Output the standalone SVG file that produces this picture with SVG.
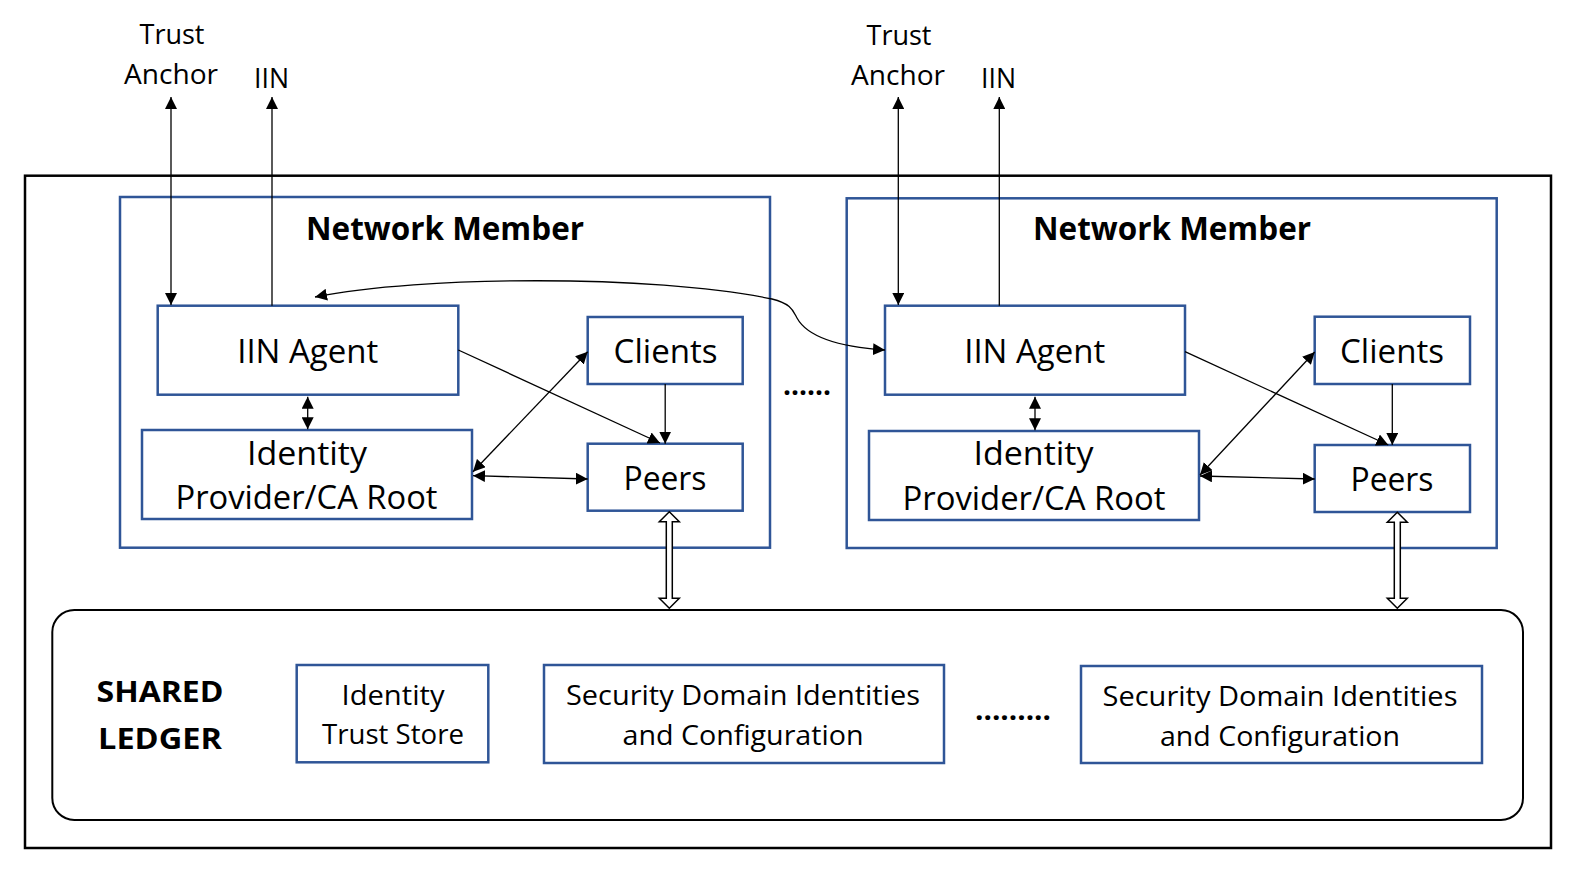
<svg xmlns="http://www.w3.org/2000/svg" width="1580" height="874" viewBox="0 0 1580 874">
<style>
.bx{fill:#fff;stroke:#2F5597;stroke-width:2.5}
.ob{fill:none;stroke:#000;stroke-width:2.5}
.t{font-family:"Open Sans","Noto Sans","Liberation Sans",sans-serif;fill:#000;text-anchor:middle}
.b{font-weight:bold}
.ln{fill:none;stroke:#000;stroke-width:1.3}
.ha{fill:#fff;stroke:#000;stroke-width:1.5}
</style>
<defs>
<marker id="ah" markerUnits="userSpaceOnUse" markerWidth="12" markerHeight="12" refX="12" refY="6" orient="auto-start-reverse">
<path d="M0,0 L12,6 L0,12 z" fill="#000"/>
</marker>
</defs>
<rect width="1580" height="874" fill="#fff"/>
<g id="outer">
<rect class="ob" x="25" y="175.7" width="1526" height="672.3"/>
</g>
<g id="labels-top">
<text class="t" x="172" y="44" font-size="28" textLength="65" lengthAdjust="spacingAndGlyphs">Trust</text>
<text class="t" x="171" y="84" font-size="28" textLength="94" lengthAdjust="spacingAndGlyphs">Anchor</text>
<text class="t" x="271.5" y="88" font-size="28" textLength="35" lengthAdjust="spacingAndGlyphs">IIN</text>
<text class="t" x="899" y="45" font-size="28" textLength="65" lengthAdjust="spacingAndGlyphs">Trust</text>
<text class="t" x="898" y="85" font-size="28" textLength="94" lengthAdjust="spacingAndGlyphs">Anchor</text>
<text class="t" x="998.5" y="88" font-size="28" textLength="35" lengthAdjust="spacingAndGlyphs">IIN</text>
</g>
<g id="member1">
<rect class="bx" x="120" y="197" width="650" height="350.7"/>
<text class="t b" x="445" y="240" font-size="32" textLength="278" lengthAdjust="spacingAndGlyphs">Network Member</text>
</g>
<g id="member2">
<rect class="bx" x="846.7" y="198.3" width="650" height="349.7"/>
<text class="t b" x="1172" y="240" font-size="32" textLength="278" lengthAdjust="spacingAndGlyphs">Network Member</text>
</g>
<g id="iin1">
<rect class="bx" x="157.7" y="305.7" width="300.6" height="89"/>
<text class="t" x="307.7" y="362.7" font-size="32" textLength="141" lengthAdjust="spacingAndGlyphs">IIN Agent</text>
</g>
<g id="idp1">
<rect class="bx" x="142" y="430" width="330" height="89"/>
<text class="t" x="307" y="465" font-size="32" textLength="120" lengthAdjust="spacingAndGlyphs">Identity</text>
<text class="t" x="306.5" y="509" font-size="32" textLength="262" lengthAdjust="spacingAndGlyphs">Provider/CA Root</text>
</g>
<g id="clients1">
<rect class="bx" x="587.7" y="317" width="155" height="67"/>
<text class="t" x="665.6" y="362.7" font-size="32" textLength="104" lengthAdjust="spacingAndGlyphs">Clients</text>
</g>
<g id="peers1">
<rect class="bx" x="587.7" y="443.7" width="155" height="67"/>
<text class="t" x="665" y="490" font-size="32" textLength="83" lengthAdjust="spacingAndGlyphs">Peers</text>
</g>
<g id="iin2">
<rect class="bx" x="885" y="305.7" width="300" height="89"/>
<text class="t" x="1034.7" y="362.7" font-size="32" textLength="141" lengthAdjust="spacingAndGlyphs">IIN Agent</text>
</g>
<g id="idp2">
<rect class="bx" x="869" y="431" width="330" height="89"/>
<text class="t" x="1033.5" y="465" font-size="32" textLength="120" lengthAdjust="spacingAndGlyphs">Identity</text>
<text class="t" x="1034" y="510" font-size="32" textLength="263" lengthAdjust="spacingAndGlyphs">Provider/CA Root</text>
</g>
<g id="clients2">
<rect class="bx" x="1314.7" y="316.7" width="155.3" height="67.3"/>
<text class="t" x="1392" y="363" font-size="32" textLength="104" lengthAdjust="spacingAndGlyphs">Clients</text>
</g>
<g id="peers2">
<rect class="bx" x="1314.7" y="445" width="155.3" height="67"/>
<text class="t" x="1392" y="490.7" font-size="32" textLength="83" lengthAdjust="spacingAndGlyphs">Peers</text>
</g>
<g id="dots-members">
<text class="t b" x="807" y="395" font-size="28" textLength="48" lengthAdjust="spacingAndGlyphs">......</text>
</g>
<g id="ledger">
<rect x="52.3" y="610" width="1470.7" height="210" rx="22" ry="22" fill="none" stroke="#000" stroke-width="2"/>
<text class="t b" x="160" y="701.7" font-size="29" textLength="127" lengthAdjust="spacingAndGlyphs">SHARED</text>
<text class="t b" x="160" y="749" font-size="29" textLength="124" lengthAdjust="spacingAndGlyphs">LEDGER</text>
<text class="t b" x="1013" y="720" font-size="28" textLength="76" lengthAdjust="spacingAndGlyphs">.........</text>
</g>
<g id="trust-store">
<rect class="bx" x="296.7" y="665" width="191.6" height="97.3"/>
<text class="t" x="393" y="705" font-size="27" textLength="103" lengthAdjust="spacingAndGlyphs">Identity</text>
<text class="t" x="393" y="744" font-size="27" textLength="142" lengthAdjust="spacingAndGlyphs">Trust Store</text>
</g>
<g id="sd1">
<rect class="bx" x="544" y="665" width="400" height="98"/>
<text class="t" x="743" y="705" font-size="27" textLength="354" lengthAdjust="spacingAndGlyphs">Security Domain Identities</text>
<text class="t" x="743" y="745" font-size="27" textLength="241" lengthAdjust="spacingAndGlyphs">and Configuration</text>
</g>
<g id="sd2">
<rect class="bx" x="1081" y="666" width="401" height="97"/>
<text class="t" x="1280" y="706" font-size="27" textLength="355" lengthAdjust="spacingAndGlyphs">Security Domain Identities</text>
<text class="t" x="1280" y="746" font-size="27" textLength="240" lengthAdjust="spacingAndGlyphs">and Configuration</text>
</g>
<g id="connectors">
<line class="ln" x1="171" y1="97" x2="171" y2="305" marker-start="url(#ah)" marker-end="url(#ah)"/>
<line class="ln" x1="272" y1="305.7" x2="272" y2="97" marker-end="url(#ah)"/>
<line class="ln" x1="898.3" y1="97" x2="898.3" y2="305" marker-start="url(#ah)" marker-end="url(#ah)"/>
<line class="ln" x1="999.3" y1="305.7" x2="999.3" y2="97" marker-end="url(#ah)"/>
<path class="ln" d="M315,297 C420,276 650,274 772,299 C792,304 793,311 797,318 C808,338 840,347 885,350" marker-start="url(#ah)" marker-end="url(#ah)"/>
<line class="ln" x1="307.7" y1="396.7" x2="307.7" y2="429.3" marker-start="url(#ah)" marker-end="url(#ah)"/>
<line class="ln" x1="1035" y1="396.7" x2="1035" y2="430.3" marker-start="url(#ah)" marker-end="url(#ah)"/>
<line class="ln" x1="458.3" y1="350" x2="660" y2="443" marker-end="url(#ah)"/>
<line class="ln" x1="665.2" y1="384" x2="665.2" y2="443.7" marker-end="url(#ah)"/>
<line class="ln" x1="587.7" y1="351.7" x2="473" y2="471.7" marker-start="url(#ah)" marker-end="url(#ah)"/>
<line class="ln" x1="473" y1="475.7" x2="587.7" y2="479" marker-start="url(#ah)" marker-end="url(#ah)"/>
<line class="ln" x1="1185" y1="351.7" x2="1388.3" y2="445" marker-end="url(#ah)"/>
<line class="ln" x1="1392.3" y1="384" x2="1392.3" y2="445" marker-end="url(#ah)"/>
<line class="ln" x1="1314.7" y1="352" x2="1200" y2="475" marker-start="url(#ah)" marker-end="url(#ah)"/>
<line class="ln" x1="1200" y1="476" x2="1314.7" y2="479" marker-start="url(#ah)" marker-end="url(#ah)"/>
<polygon class="ha" points="669.3,511.7 679.3,521.7 672.3,521.7 672.3,598.3 679.3,598.3 669.3,608.3 659.3,598.3 666.3,598.3 666.3,521.7 659.3,521.7"/>
<polygon class="ha" points="1397.3,512.3 1407.3,522.3 1400.3,522.3 1400.3,598.3 1407.3,598.3 1397.3,608.3 1387.3,598.3 1394.3,598.3 1394.3,522.3 1387.3,522.3"/>
</g>
</svg>
